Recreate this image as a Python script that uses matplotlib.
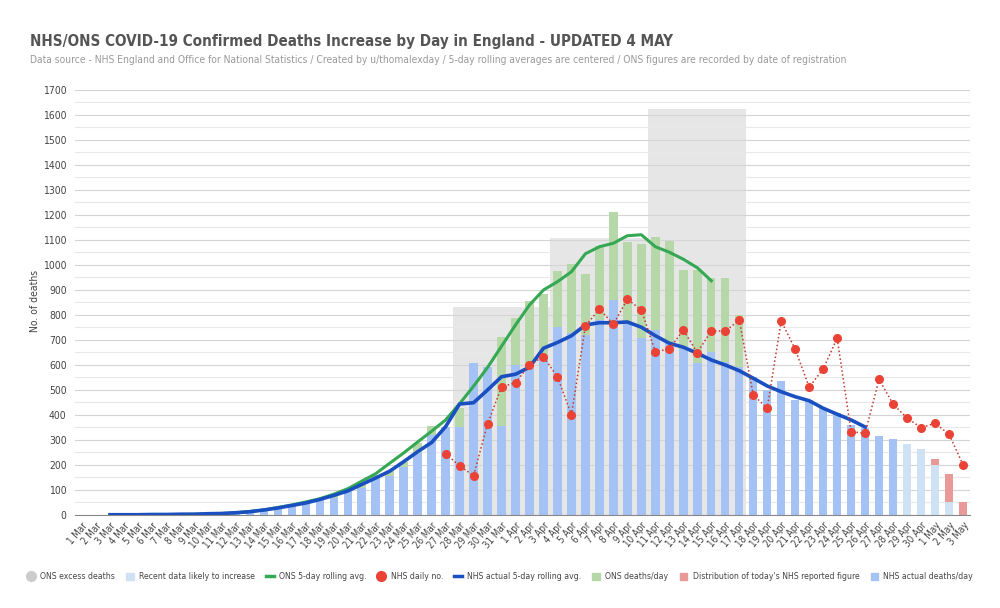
import numpy as np
import matplotlib
matplotlib.use("Agg")
import matplotlib.pyplot as plt
from matplotlib.lines import Line2D
from matplotlib.patches import Patch

plt.rcParams["font.family"] = ["DejaVu Sans"]
plt.rcParams["font.stretch"] = "condensed"

# category labels 1 Mar .. 3 May
dates = ([f"{d} Mar" for d in range(1, 32)] + [f"{d} Apr" for d in range(1, 31)]
         + ["1 May", "2 May", "3 May"])

# NHS actual deaths/day (1 Mar .. 28 Apr)
nhs_actual = [0, 0, 1, 1, 1, 2, 2, 2, 3, 4,
              6, 7, 10, 16, 27, 36, 49, 60, 67, 93,
              109, 143, 155, 192, 247, 318, 352, 353, 607, 592,
              356, 598, 600, 633, 750, 727, 720, 780, 860, 765,
              707, 740, 690, 665, 607, 650, 612, 593, 553, 500,
              536, 460, 458, 427, 407, 360, 347, 316, 304]

# recent data likely to increase (29 Apr .. 3 May)
recent_dates = ["29 Apr", "30 Apr", "1 May", "2 May", "3 May"]
nhs_recent = [283, 262, 200, 53, 0]
# distribution of today's NHS reported figure (on top of recent)
nhs_today = [0, 0, 23, 110, 51]

# ONS deaths/day (1 Mar .. 17 Apr)
ons_daily = [0, 0, 0, 0, 1, 1, 2, 2, 3, 4,
             5, 8, 12, 18, 25, 35, 50, 55, 75, 100,
             120, 160, 175, 210, 287, 357, 340, 427, 500, 560,
             711, 787, 857, 883, 975, 1003, 962, 1075, 1213, 1093,
             1084, 1111, 1097, 981, 978, 947, 946, 800]

# ONS 5-day rolling avg (7 Mar .. 15 Apr)
ons_avg_start = "7 Mar"
ons_avg = [1, 2, 3, 4, 6, 9, 14, 20, 30, 40,
           52, 65, 83, 105, 135, 165, 207, 248, 292, 335,
           380, 445, 515, 590, 675, 760, 840, 900, 933, 973,
           1045, 1073, 1087, 1117, 1121, 1073, 1051, 1023, 989, 937]

# NHS actual 5-day rolling avg (3 Mar .. 26 Apr)
nhs_avg_start = "3 Mar"
nhs_avg = [1, 1, 1, 2, 2, 3, 3, 5, 6, 9,
           13, 20, 28, 38, 48, 62, 78, 96, 122, 148,
           175, 213, 253, 290, 353, 444, 449, 500, 553, 563,
           591, 667, 690, 717, 760, 769, 769, 772, 751, 717,
           687, 671, 647, 620, 600, 577, 547, 516, 493, 473,
           457, 427, 403, 380, 352]

# NHS daily no. (27 Mar .. 3 May)
nhs_daily_start = "27 Mar"
nhs_daily = [244, 197, 157, 364, 512, 529, 601, 633, 552, 401,
             756, 824, 763, 863, 820, 653, 664, 740, 649, 737,
             735, 780, 480, 427, 776, 663, 511, 584, 707, 333,
             327, 543, 443, 388, 349, 367, 323, 201]

# ONS excess deaths, weekly
excess_weeks = ["28 Mar", "4 Apr", "11 Apr"]
excess_deaths = [833, 1108, 1623]

C_GRAY = "#e6e6e6"
C_BLUE_BAR = "#a4c2f4"
C_RECENT = "#cfe2f3"
C_PINK = "#ea9999"
C_GREEN_BAR = "#b6d7a8"
C_GREEN = "#34a853"
C_BLUE = "#1a4fc1"
C_RED = "#ea4335"
C_RED_LINE = "#c0392b"

x = np.arange(len(dates))
bw = 0.6

fig = plt.figure(figsize=(10, 6.08), dpi=100)
ax = fig.add_axes([0.075, 0.153, 0.895, 0.699])

# excess deaths blocks (7 days each)
for d, v in zip(excess_weeks, excess_deaths):
    ax.bar(dates.index(d) + 3, v, width=7, color=C_GRAY, zorder=0.2, linewidth=0)

ax.bar(x[:len(ons_daily)], ons_daily, width=bw, color=C_GREEN_BAR, zorder=2, linewidth=0)
ax.bar(x[:len(nhs_actual)], nhs_actual, width=bw, color=C_BLUE_BAR, zorder=3, linewidth=0)

xr = np.array([dates.index(d) for d in recent_dates])
ax.bar(xr, nhs_recent, width=bw, color=C_RECENT, zorder=3, linewidth=0)
ax.bar(xr, nhs_today, bottom=nhs_recent, width=bw, color=C_PINK, zorder=3, linewidth=0)

i0 = dates.index(ons_avg_start)
ax.plot(x[i0:i0 + len(ons_avg)], ons_avg, color=C_GREEN, lw=2.2, zorder=4)
i0 = dates.index(nhs_avg_start)
ax.plot(x[i0:i0 + len(nhs_avg)], nhs_avg, color=C_BLUE, lw=2.6, zorder=5)
i0 = dates.index(nhs_daily_start)
xd = x[i0:i0 + len(nhs_daily)]
ax.plot(xd, nhs_daily, color=C_RED_LINE, lw=1.1, ls=(0, (1, 1.6)), zorder=6)
ax.plot(xd, nhs_daily, "o", color=C_RED, ms=5.5, zorder=7)

ax.set_xlim(-0.5, len(dates) - 0.5)
ax.set_ylim(0, 1700)
ax.set_yticks(np.arange(0, 1701, 100))
ax.set_yticks(np.arange(50, 1700, 100), minor=True)
ax.set_axisbelow(True)
ax.grid(axis="y", which="major", color="#d4d4d4", lw=0.8)
ax.grid(axis="y", which="minor", color="#e8e8e8", lw=0.8)
for s in ["top", "right", "left"]:
    ax.spines[s].set_visible(False)
ax.spines["bottom"].set_color("#888888")
ax.spines["bottom"].set_zorder(8)

ax.set_xticks(x)
ax.set_xticklabels(dates, rotation=50, ha="right", rotation_mode="anchor",
                   fontsize=7, color="#444444")
ax.tick_params(axis="x", length=0, pad=4)
ax.tick_params(axis="y", which="both", length=0, labelsize=7.5, labelcolor="#444444", pad=6)

fig.text(0.03, 0.931, "NHS/ONS COVID-19 Confirmed Deaths Increase by Day in England - UPDATED 4 MAY",
         fontsize=10.9, fontweight="bold", color="#555555", va="center")
fig.text(0.03, 0.901, "Data source - NHS England and Office for National Statistics / Created by "
         "u/thomalexday / 5-day rolling averages are centered / ONS figures are recorded by date of registration",
         fontsize=7.4, color="#999999", va="center")
fig.text(0.035, 0.505, "No. of deaths", rotation=90, fontsize=7.5, color="#444444",
         va="center", ha="center")

handles = [
    Line2D([], [], marker="o", ls="", color="#cccccc", ms=7),
    Patch(color=C_RECENT),
    Line2D([], [], color=C_GREEN, lw=2.5),
    Line2D([], [], marker="o", ls="", color=C_RED, ms=7),
    Line2D([], [], color=C_BLUE, lw=2.5),
    Patch(color=C_GREEN_BAR),
    Patch(color=C_PINK),
    Patch(color=C_BLUE_BAR),
]
labels = ["ONS excess deaths", "Recent data likely to increase", "ONS 5-day rolling avg.",
          "NHS daily no.", "NHS actual 5-day rolling avg.", "ONS deaths/day",
          "Distribution of today's NHS reported figure", "NHS actual deaths/day"]
leg = fig.legend(handles, labels, loc="center", bbox_to_anchor=(0.5, 0.051), ncol=8,
                 frameon=False, fontsize=6.2, handlelength=0.9, handleheight=0.9,
                 handletextpad=0.6, columnspacing=1.3, labelcolor="#444444")

fig.savefig("out.png", dpi=100, facecolor="white")
